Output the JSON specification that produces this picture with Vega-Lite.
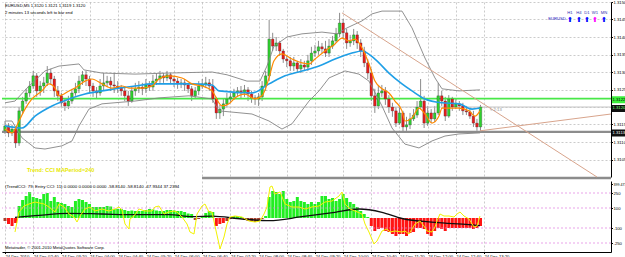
{
"$schema": "https://vega.github.io/schema/vega-lite/v6.json",
"padding": 0,
"background": "white",
"spacing": 1,
"config": {
 "view": {"stroke": null},
 "font": "Liberation Sans",
 "scale": {"continuousPadding": 0},
 "axis": {"labelFont": "Liberation Sans", "labelFontSize": 4.2, "labelColor": "#000", "gridColor": "#b4b4b4", "gridDash": [2, 2], "gridWidth": 0.7, "domainColor": "#000", "domainWidth": 1, "tickColor": "#000", "tickSize": 1.5, "labelOverlap": false, "labelSeparation": 0, "labelBound": false}
},
"datasets": {
 "one": [{}],
 "bars": [
  {"m":120,"o":1.31132,"h":1.31160,"l":1.31123,"c":1.31146,"v":-30},
  {"m":125,"o":1.31146,"h":1.31154,"l":1.31114,"c":1.31126,"v":-60},
  {"m":130,"o":1.31126,"h":1.31149,"l":1.31117,"c":1.31137,"v":-80},
  {"m":135,"o":1.31137,"h":1.31143,"l":1.31083,"c":1.31097,"v":-50},
  {"m":140,"o":1.31097,"h":1.31200,"l":1.31089,"c":1.31189,"v":120},
  {"m":145,"o":1.31189,"h":1.31229,"l":1.31180,"c":1.31217,"v":180},
  {"m":150,"o":1.31217,"h":1.31252,"l":1.31209,"c":1.31240,"v":220},
  {"m":155,"o":1.31240,"h":1.31274,"l":1.31229,"c":1.31260,"v":260},
  {"m":160,"o":1.31260,"h":1.31303,"l":1.31252,"c":1.31289,"v":210},
  {"m":165,"o":1.31289,"h":1.31297,"l":1.31229,"c":1.31246,"v":200},
  {"m":170,"o":1.31246,"h":1.31274,"l":1.31232,"c":1.31260,"v":190},
  {"m":175,"o":1.31260,"h":1.31286,"l":1.31240,"c":1.31269,"v":240},
  {"m":180,"o":1.31269,"h":1.31317,"l":1.31260,"c":1.31297,"v":250},
  {"m":185,"o":1.31297,"h":1.31309,"l":1.31263,"c":1.31280,"v":170},
  {"m":190,"o":1.31280,"h":1.31289,"l":1.31229,"c":1.31246,"v":210},
  {"m":195,"o":1.31246,"h":1.31260,"l":1.31217,"c":1.31232,"v":160},
  {"m":200,"o":1.31232,"h":1.31240,"l":1.31200,"c":1.31212,"v":150},
  {"m":205,"o":1.31212,"h":1.31223,"l":1.31189,"c":1.31203,"v":140},
  {"m":210,"o":1.31203,"h":1.31232,"l":1.31194,"c":1.31217,"v":120},
  {"m":215,"o":1.31217,"h":1.31252,"l":1.31209,"c":1.31240,"v":110},
  {"m":220,"o":1.31240,"h":1.31269,"l":1.31232,"c":1.31252,"v":170},
  {"m":225,"o":1.31252,"h":1.31289,"l":1.31240,"c":1.31274,"v":190},
  {"m":230,"o":1.31274,"h":1.31303,"l":1.31263,"c":1.31292,"v":180},
  {"m":235,"o":1.31292,"h":1.31303,"l":1.31260,"c":1.31280,"v":160},
  {"m":240,"o":1.31280,"h":1.31289,"l":1.31240,"c":1.31260,"v":140},
  {"m":245,"o":1.31260,"h":1.31269,"l":1.31229,"c":1.31246,"v":110},
  {"m":250,"o":1.31246,"h":1.31257,"l":1.31223,"c":1.31240,"v":110},
  {"m":255,"o":1.31240,"h":1.31280,"l":1.31232,"c":1.31260,"v":110},
  {"m":260,"o":1.31260,"h":1.31297,"l":1.31246,"c":1.31269,"v":110},
  {"m":265,"o":1.31269,"h":1.31289,"l":1.31257,"c":1.31274,"v":120},
  {"m":270,"o":1.31274,"h":1.31286,"l":1.31246,"c":1.31263,"v":115},
  {"m":275,"o":1.31263,"h":1.31297,"l":1.31240,"c":1.31260,"v":90},
  {"m":280,"o":1.31260,"h":1.31274,"l":1.31240,"c":1.31254,"v":90},
  {"m":285,"o":1.31254,"h":1.31263,"l":1.31232,"c":1.31246,"v":90},
  {"m":290,"o":1.31246,"h":1.31260,"l":1.31217,"c":1.31232,"v":80},
  {"m":295,"o":1.31232,"h":1.31246,"l":1.31203,"c":1.31217,"v":70},
  {"m":300,"o":1.31217,"h":1.31260,"l":1.31212,"c":1.31246,"v":75},
  {"m":305,"o":1.31246,"h":1.31269,"l":1.31232,"c":1.31252,"v":70},
  {"m":310,"o":1.31252,"h":1.31274,"l":1.31240,"c":1.31257,"v":70},
  {"m":315,"o":1.31257,"h":1.31269,"l":1.31234,"c":1.31252,"v":70},
  {"m":320,"o":1.31252,"h":1.31280,"l":1.31240,"c":1.31263,"v":80},
  {"m":325,"o":1.31263,"h":1.31274,"l":1.31246,"c":1.31257,"v":90},
  {"m":330,"o":1.31257,"h":1.31292,"l":1.31246,"c":1.31274,"v":85},
  {"m":335,"o":1.31274,"h":1.31297,"l":1.31263,"c":1.31280,"v":75},
  {"m":340,"o":1.31280,"h":1.31303,"l":1.31269,"c":1.31289,"v":70},
  {"m":345,"o":1.31289,"h":1.31297,"l":1.31269,"c":1.31283,"v":70},
  {"m":350,"o":1.31283,"h":1.31303,"l":1.31274,"c":1.31292,"v":80},
  {"m":355,"o":1.31292,"h":1.31297,"l":1.31266,"c":1.31280,"v":80},
  {"m":360,"o":1.31280,"h":1.31289,"l":1.31257,"c":1.31274,"v":75},
  {"m":365,"o":1.31274,"h":1.31283,"l":1.31252,"c":1.31266,"v":70},
  {"m":370,"o":1.31266,"h":1.31280,"l":1.31254,"c":1.31269,"v":70},
  {"m":375,"o":1.31269,"h":1.31280,"l":1.31246,"c":1.31263,"v":60},
  {"m":380,"o":1.31263,"h":1.31269,"l":1.31240,"c":1.31252,"v":45},
  {"m":385,"o":1.31252,"h":1.31260,"l":1.31217,"c":1.31232,"v":40},
  {"m":390,"o":1.31232,"h":1.31257,"l":1.31223,"c":1.31246,"v":-20},
  {"m":395,"o":1.31246,"h":1.31274,"l":1.31234,"c":1.31260,"v":-10},
  {"m":400,"o":1.31260,"h":1.31280,"l":1.31252,"c":1.31266,"v":20},
  {"m":405,"o":1.31266,"h":1.31286,"l":1.31254,"c":1.31269,"v":50},
  {"m":410,"o":1.31269,"h":1.31280,"l":1.31246,"c":1.31260,"v":70},
  {"m":415,"o":1.31260,"h":1.31280,"l":1.31212,"c":1.31223,"v":60},
  {"m":420,"o":1.31223,"h":1.31229,"l":1.31166,"c":1.31183,"v":-80},
  {"m":425,"o":1.31183,"h":1.31206,"l":1.31166,"c":1.31194,"v":-60},
  {"m":430,"o":1.31194,"h":1.31223,"l":1.31174,"c":1.31209,"v":-50},
  {"m":435,"o":1.31209,"h":1.31240,"l":1.31200,"c":1.31223,"v":-30},
  {"m":440,"o":1.31223,"h":1.31240,"l":1.31212,"c":1.31229,"v":-10},
  {"m":445,"o":1.31229,"h":1.31252,"l":1.31220,"c":1.31240,"v":20},
  {"m":450,"o":1.31240,"h":1.31257,"l":1.31229,"c":1.31246,"v":20},
  {"m":455,"o":1.31246,"h":1.31260,"l":1.31223,"c":1.31240,"v":10},
  {"m":460,"o":1.31240,"h":1.31263,"l":1.31229,"c":1.31249,"v":-20},
  {"m":465,"o":1.31249,"h":1.31257,"l":1.31217,"c":1.31237,"v":-30},
  {"m":470,"o":1.31237,"h":1.31246,"l":1.31212,"c":1.31226,"v":-30},
  {"m":475,"o":1.31226,"h":1.31234,"l":1.31206,"c":1.31223,"v":-40},
  {"m":480,"o":1.31223,"h":1.31240,"l":1.31203,"c":1.31229,"v":-20},
  {"m":485,"o":1.31229,"h":1.31274,"l":1.31217,"c":1.31260,"v":-10},
  {"m":490,"o":1.31260,"h":1.31303,"l":1.31246,"c":1.31289,"v":20},
  {"m":495,"o":1.31289,"h":1.31449,"l":1.31274,"c":1.31394,"v":210},
  {"m":500,"o":1.31394,"h":1.31412,"l":1.31360,"c":1.31374,"v":270},
  {"m":505,"o":1.31374,"h":1.31400,"l":1.31360,"c":1.31383,"v":260},
  {"m":510,"o":1.31383,"h":1.31389,"l":1.31346,"c":1.31360,"v":240},
  {"m":515,"o":1.31360,"h":1.31366,"l":1.31326,"c":1.31337,"v":270},
  {"m":520,"o":1.31337,"h":1.31346,"l":1.31314,"c":1.31332,"v":190},
  {"m":525,"o":1.31332,"h":1.31343,"l":1.31303,"c":1.31317,"v":160},
  {"m":530,"o":1.31317,"h":1.31343,"l":1.31303,"c":1.31326,"v":170},
  {"m":535,"o":1.31326,"h":1.31332,"l":1.31297,"c":1.31309,"v":210},
  {"m":540,"o":1.31309,"h":1.31337,"l":1.31297,"c":1.31320,"v":170},
  {"m":545,"o":1.31320,"h":1.31332,"l":1.31303,"c":1.31314,"v":160},
  {"m":550,"o":1.31314,"h":1.31349,"l":1.31303,"c":1.31332,"v":140},
  {"m":555,"o":1.31332,"h":1.31372,"l":1.31320,"c":1.31354,"v":160},
  {"m":560,"o":1.31354,"h":1.31377,"l":1.31343,"c":1.31360,"v":140},
  {"m":565,"o":1.31360,"h":1.31389,"l":1.31349,"c":1.31372,"v":160},
  {"m":570,"o":1.31372,"h":1.31383,"l":1.31354,"c":1.31366,"v":220},
  {"m":575,"o":1.31366,"h":1.31389,"l":1.31343,"c":1.31354,"v":220},
  {"m":580,"o":1.31354,"h":1.31394,"l":1.31343,"c":1.31374,"v":190},
  {"m":585,"o":1.31374,"h":1.31403,"l":1.31366,"c":1.31389,"v":200},
  {"m":590,"o":1.31389,"h":1.31426,"l":1.31383,"c":1.31409,"v":170},
  {"m":595,"o":1.31409,"h":1.31469,"l":1.31400,"c":1.31440,"v":190},
  {"m":600,"o":1.31440,"h":1.31452,"l":1.31394,"c":1.31412,"v":240},
  {"m":605,"o":1.31412,"h":1.31423,"l":1.31366,"c":1.31383,"v":200},
  {"m":610,"o":1.31383,"h":1.31406,"l":1.31372,"c":1.31389,"v":160},
  {"m":615,"o":1.31389,"h":1.31423,"l":1.31377,"c":1.31406,"v":140},
  {"m":620,"o":1.31406,"h":1.31417,"l":1.31366,"c":1.31383,"v":110},
  {"m":625,"o":1.31383,"h":1.31394,"l":1.31343,"c":1.31360,"v":70},
  {"m":630,"o":1.31360,"h":1.31372,"l":1.31314,"c":1.31326,"v":40},
  {"m":635,"o":1.31326,"h":1.31337,"l":1.31280,"c":1.31297,"v":10},
  {"m":640,"o":1.31297,"h":1.31309,"l":1.31217,"c":1.31232,"v":-80},
  {"m":645,"o":1.31232,"h":1.31252,"l":1.31183,"c":1.31203,"v":-130},
  {"m":650,"o":1.31203,"h":1.31260,"l":1.31194,"c":1.31240,"v":-110},
  {"m":655,"o":1.31240,"h":1.31263,"l":1.31229,"c":1.31246,"v":-100},
  {"m":660,"o":1.31246,"h":1.31257,"l":1.31206,"c":1.31223,"v":-130},
  {"m":665,"o":1.31223,"h":1.31234,"l":1.31183,"c":1.31200,"v":-140},
  {"m":670,"o":1.31200,"h":1.31212,"l":1.31172,"c":1.31189,"v":-160},
  {"m":675,"o":1.31189,"h":1.31200,"l":1.31143,"c":1.31154,"v":-180},
  {"m":680,"o":1.31154,"h":1.31203,"l":1.31149,"c":1.31183,"v":-160},
  {"m":685,"o":1.31183,"h":1.31189,"l":1.31126,"c":1.31143,"v":-160},
  {"m":690,"o":1.31143,"h":1.31172,"l":1.31132,"c":1.31149,"v":-180},
  {"m":695,"o":1.31149,"h":1.31183,"l":1.31137,"c":1.31166,"v":-150},
  {"m":700,"o":1.31166,"h":1.31194,"l":1.31160,"c":1.31177,"v":-140},
  {"m":705,"o":1.31177,"h":1.31217,"l":1.31169,"c":1.31200,"v":-100},
  {"m":710,"o":1.31200,"h":1.31280,"l":1.31194,"c":1.31217,"v":-100},
  {"m":715,"o":1.31217,"h":1.31232,"l":1.31140,"c":1.31154,"v":-110},
  {"m":720,"o":1.31154,"h":1.31203,"l":1.31146,"c":1.31183,"v":-160},
  {"m":725,"o":1.31183,"h":1.31194,"l":1.31154,"c":1.31166,"v":-180},
  {"m":730,"o":1.31166,"h":1.31203,"l":1.31157,"c":1.31183,"v":-130},
  {"m":735,"o":1.31183,"h":1.31269,"l":1.31177,"c":1.31232,"v":-100},
  {"m":740,"o":1.31232,"h":1.31246,"l":1.31203,"c":1.31217,"v":-110},
  {"m":745,"o":1.31217,"h":1.31229,"l":1.31160,"c":1.31174,"v":-130},
  {"m":750,"o":1.31174,"h":1.31234,"l":1.31169,"c":1.31223,"v":-100},
  {"m":755,"o":1.31223,"h":1.31229,"l":1.31189,"c":1.31200,"v":-100},
  {"m":760,"o":1.31200,"h":1.31223,"l":1.31194,"c":1.31209,"v":-100},
  {"m":765,"o":1.31209,"h":1.31217,"l":1.31189,"c":1.31203,"v":-100},
  {"m":770,"o":1.31203,"h":1.31212,"l":1.31177,"c":1.31189,"v":-100},
  {"m":775,"o":1.31189,"h":1.31203,"l":1.31177,"c":1.31186,"v":-100},
  {"m":780,"o":1.31186,"h":1.31197,"l":1.31166,"c":1.31174,"v":-100},
  {"m":785,"o":1.31174,"h":1.31189,"l":1.31143,"c":1.31154,"v":-110},
  {"m":790,"o":1.31154,"h":1.31166,"l":1.31132,"c":1.31143,"v":-100},
  {"m":795,"o":1.31143,"h":1.31206,"l":1.31129,"c":1.31200,"v":-80}
 ],
 "bup": [
  {"m":120,"p":1.31212},{"m":134.2,"p":1.31217},{"m":151.2,"p":1.31254},{"m":176.8,"p":1.31303},{"m":196.7,"p":1.31317},{"m":225.1,"p":1.31323},{"m":232.1,"p":1.31306},{"m":257.7,"p":1.31297},{"m":304.5,"p":1.31294},{"m":352.8,"p":1.31297},{"m":413.9,"p":1.31300},{"m":435.2,"p":1.31292},{"m":463.5,"p":1.31274},{"m":482.0,"p":1.31274},{"m":491.9,"p":1.31317},{"m":501.9,"p":1.31374},{"m":520.3,"p":1.31400},{"m":541.6,"p":1.31409},{"m":570.0,"p":1.31414},{"m":591.3,"p":1.31409},{"m":605.5,"p":1.31426},{"m":626.8,"p":1.31446},{"m":641.0,"p":1.31466},{"m":655.2,"p":1.31474},{"m":683.6,"p":1.31474},{"m":697.8,"p":1.31426},{"m":716.2,"p":1.31340},{"m":730.4,"p":1.31283},{"m":740.4,"p":1.31252},{"m":764.5,"p":1.31246},{"m":794.3,"p":1.31249}
 ],
 "blo": [
  {"m":120,"p":1.31160},{"m":129.9,"p":1.31160},{"m":144.1,"p":1.31112},{"m":162.6,"p":1.31083},{"m":176.8,"p":1.31080},{"m":200.9,"p":1.31089},{"m":215.1,"p":1.31103},{"m":225.1,"p":1.31146},{"m":239.2,"p":1.31194},{"m":257.7,"p":1.31209},{"m":304.5,"p":1.31217},{"m":338.6,"p":1.31226},{"m":381.2,"p":1.31232},{"m":413.9,"p":1.31223},{"m":423.8,"p":1.31189},{"m":470.6,"p":1.31180},{"m":494.8,"p":1.31160},{"m":513.2,"p":1.31137},{"m":527.4,"p":1.31152},{"m":551.6,"p":1.31217},{"m":565.8,"p":1.31246},{"m":580.0,"p":1.31283},{"m":602.7,"p":1.31303},{"m":622.5,"p":1.31294},{"m":636.7,"p":1.31274},{"m":655.2,"p":1.31203},{"m":669.4,"p":1.31140},{"m":687.8,"p":1.31094},{"m":707.7,"p":1.31083},{"m":726.2,"p":1.31103},{"m":744.6,"p":1.31117},{"m":764.5,"p":1.31123},{"m":794.3,"p":1.31126}
 ],
 "ma": [
  {"m":120,"p":1.31146},{"m":144.1,"p":1.31140},{"m":162.6,"p":1.31174},{"m":186.7,"p":1.31203},{"m":210.9,"p":1.31223},{"m":233.6,"p":1.31237},{"m":257.7,"p":1.31246},{"m":281.8,"p":1.31254},{"m":304.5,"p":1.31260},{"m":328.7,"p":1.31266},{"m":381.2,"p":1.31266},{"m":413.9,"p":1.31263},{"m":423.8,"p":1.31246},{"m":470.6,"p":1.31240},{"m":494.8,"p":1.31266},{"m":517.5,"p":1.31289},{"m":541.6,"p":1.31303},{"m":565.8,"p":1.31317},{"m":588.5,"p":1.31337},{"m":612.6,"p":1.31354},{"m":626.8,"p":1.31360},{"m":645.2,"p":1.31337},{"m":665.1,"p":1.31297},{"m":683.6,"p":1.31266},{"m":697.8,"p":1.31246},{"m":716.2,"p":1.31223},{"m":740.4,"p":1.31212},{"m":764.5,"p":1.31209},{"m":783.0,"p":1.31194},{"m":794.3,"p":1.31197}
 ],
 "ema": [
  {"m":120,"p":1.31137},{"m":129.9,"p":1.31126},{"m":139.9,"p":1.31160},{"m":148.4,"p":1.31194},{"m":158.3,"p":1.31223},{"m":172.5,"p":1.31246},{"m":182.5,"p":1.31266},{"m":191.0,"p":1.31254},{"m":196.7,"p":1.31232},{"m":203.8,"p":1.31237},{"m":210.9,"p":1.31246},{"m":219.4,"p":1.31254},{"m":233.6,"p":1.31274},{"m":243.5,"p":1.31280},{"m":257.7,"p":1.31266},{"m":271.9,"p":1.31254},{"m":286.1,"p":1.31260},{"m":296.0,"p":1.31254},{"m":314.5,"p":1.31254},{"m":328.7,"p":1.31260},{"m":338.6,"p":1.31280},{"m":352.8,"p":1.31289},{"m":371.3,"p":1.31283},{"m":385.5,"p":1.31266},{"m":399.7,"p":1.31260},{"m":413.9,"p":1.31246},{"m":428.1,"p":1.31203},{"m":438.0,"p":1.31209},{"m":446.5,"p":1.31226},{"m":460.7,"p":1.31237},{"m":474.9,"p":1.31223},{"m":484.8,"p":1.31232},{"m":494.8,"p":1.31283},{"m":501.9,"p":1.31332},{"m":513.2,"p":1.31352},{"m":527.4,"p":1.31337},{"m":541.6,"p":1.31326},{"m":551.6,"p":1.31323},{"m":560.1,"p":1.31337},{"m":574.3,"p":1.31360},{"m":588.5,"p":1.31380},{"m":598.4,"p":1.31397},{"m":608.3,"p":1.31389},{"m":616.9,"p":1.31394},{"m":626.8,"p":1.31369},{"m":636.7,"p":1.31323},{"m":645.2,"p":1.31274},{"m":655.2,"p":1.31252},{"m":665.1,"p":1.31240},{"m":673.6,"p":1.31217},{"m":683.6,"p":1.31189},{"m":687.8,"p":1.31160},{"m":697.8,"p":1.31169},{"m":707.7,"p":1.31197},{"m":716.2,"p":1.31180},{"m":726.2,"p":1.31154},{"m":736.1,"p":1.31174},{"m":740.4,"p":1.31197},{"m":751.7,"p":1.31197},{"m":764.5,"p":1.31197},{"m":778.7,"p":1.31189},{"m":787.2,"p":1.31174},{"m":794.3,"p":1.31189}
 ],
 "tl": [
  {"s":"d","m":598.4,"p":1.31469},{"s":"d","m":960.4,"p":1.31000},
  {"s":"a","m":794.3,"p":1.31132},{"s":"a","m":980.3,"p":1.31180}
 ],
 "slow": [
  {"m":134.2,"v":7},{"m":162.6,"v":23},{"m":210.9,"v":47},{"m":257.7,"v":40},{"m":304.5,"v":33},{"m":352.8,"v":33},{"m":385.5,"v":13},{"m":413.9,"v":18},{"m":456.4,"v":-10},{"m":494.8,"v":-27},{"m":541.6,"v":13},{"m":588.5,"v":57},{"m":622.5,"v":90},{"m":655.2,"v":57},{"m":683.6,"v":-5},{"m":730.4,"v":-43},{"m":778.7,"v":-67},{"m":794.3,"v":-77}
 ],
 "entry": [
  {"m":134.2,"v":-140},{"m":139.9,"v":60},{"m":147.0,"v":120},{"m":154.1,"v":140},{"m":162.6,"v":160},{"m":175.4,"v":140},{"m":182.5,"v":110},{"m":191.0,"v":60},{"m":196.7,"v":140},{"m":203.8,"v":110},{"m":210.9,"v":40},{"m":218.0,"v":10},{"m":222.2,"v":-40},{"m":226.5,"v":20},{"m":233.6,"v":90},{"m":240.7,"v":110},{"m":247.8,"v":70},{"m":257.7,"v":90},{"m":267.6,"v":70},{"m":276.2,"v":90},{"m":281.8,"v":110},{"m":286.1,"v":80},{"m":290.4,"v":-60},{"m":296.0,"v":-110},{"m":297.4,"v":-10},{"m":303.1,"v":20},{"m":310.2,"v":90},{"m":318.8,"v":70},{"m":328.7,"v":70},{"m":332.9,"v":110},{"m":338.6,"v":120},{"m":345.7,"v":40},{"m":352.8,"v":60},{"m":359.9,"v":70},{"m":364.2,"v":60},{"m":371.3,"v":10},{"m":378.4,"v":-60},{"m":382.6,"v":-140},{"m":388.3,"v":-160},{"m":392.6,"v":40},{"m":399.7,"v":120},{"m":403.9,"v":140},{"m":409.6,"v":60},{"m":413.9,"v":60},{"m":418.1,"v":-80},{"m":423.8,"v":-260},{"m":425.2,"v":-310},{"m":430.9,"v":-190},{"m":435.2,"v":-60},{"m":439.4,"v":10},{"m":446.5,"v":20},{"m":456.4,"v":10},{"m":466.4,"v":-30},{"m":474.9,"v":-40},{"m":482.0,"v":-30},{"m":487.7,"v":40},{"m":491.9,"v":110},{"m":496.2,"v":310},{"m":499.0,"v":320},{"m":503.3,"v":240},{"m":510.4,"v":260},{"m":517.5,"v":140},{"m":527.4,"v":110},{"m":537.4,"v":110},{"m":545.9,"v":90},{"m":555.8,"v":110},{"m":565.8,"v":120},{"m":574.3,"v":160},{"m":584.2,"v":170},{"m":594.2,"v":220},{"m":598.4,"v":260},{"m":602.7,"v":140},{"m":609.8,"v":90},{"m":616.9,"v":70},{"m":626.8,"v":40},{"m":631.1,"v":-60},{"m":636.7,"v":-140},{"m":643.8,"v":-260},{"m":648.1,"v":-230},{"m":655.2,"v":-130},{"m":662.3,"v":-110},{"m":666.5,"v":-140},{"m":673.6,"v":-130},{"m":683.6,"v":-140},{"m":687.8,"v":-130},{"m":693.5,"v":-160},{"m":697.8,"v":-110},{"m":702.0,"v":-60},{"m":709.1,"v":-30},{"m":714.8,"v":-80},{"m":719.1,"v":-130},{"m":726.2,"v":-140},{"m":730.4,"v":-90},{"m":733.3,"v":-30},{"m":737.5,"v":40},{"m":743.2,"v":20},{"m":750.3,"v":20},{"m":757.4,"v":10},{"m":761.7,"v":40},{"m":766.0,"v":60},{"m":771.6,"v":20},{"m":778.7,"v":-10},{"m":785.8,"v":-90},{"m":790.1,"v":-80},{"m":794.3,"v":20}
 ],
 "lv": [{"v":250},{"v":100},{"v":-100},{"v":-250}]
},
"vconcat": [
 {
  "width": 609, "height": 175,
  "resolve": {"axis": {"x": "independent", "y": "independent"}},
  "layer": [
   {
    "data": {"name": "bars"},
    "mark": {"type": "rule", "color": "#6e6e6e", "strokeWidth": 0.8},
    "encoding": {
     "x": {"field": "m", "type": "quantitative", "title": null, "scale": {"domain": [115.74, 980.3], "nice": false, "zero": false, "padding": 0},
       "axis": {"values": [120,160,200,240,280,320,360,400,440,480,520,560,600,640,680,720,760,800], "grid": true, "labels": false, "ticks": false, "domain": false, "labelOverlap": false}},
     "y": {"field": "l", "type": "quantitative", "title": null, "scale": {"domain": [1.31, 1.315], "nice": false, "zero": false, "padding": 0},
       "axis": {"orient": "right", "values": [1.3105,1.311,1.3115,1.312,1.3125,1.313,1.3135,1.314,1.3145,1.315], "format": ".4f", "grid": true, "labelPadding": 0.5, "labelOverlap": false, "labelBaseline": "middle"}},
     "y2": {"field": "h"}
    }
   },
   {"data": {"name": "one"}, "mark": {"type": "rule", "color": "#c4c4c4", "strokeWidth": 1}, "encoding": {"y": {"datum": 1.312, "type": "quantitative", "axis": null}}},
   {"data": {"name": "one"}, "mark": {"type": "rule", "color": "#8c8c8c", "strokeWidth": 2.4}, "encoding": {"y": {"datum": 1.31129, "type": "quantitative", "axis": null}}},
   {"data": {"name": "one"}, "mark": {"type": "rule", "color": "#48e848", "strokeWidth": 1.8}, "encoding": {"y": {"datum": 1.31224, "type": "quantitative", "axis": null}}},
   {"data": {"name": "one"}, "mark": {"type": "rule", "color": "#8c8c8c", "strokeWidth": 2.4}, "encoding": {"x": {"datum": 399.7, "type": "quantitative", "axis": null}, "x2": {"datum": 980.3}, "y": {"datum": 1.30997, "type": "quantitative", "axis": null}}},
   {
    "data": {"name": "bars"},
    "mark": {"type": "bar", "width": 2.6, "stroke": "#303030", "strokeWidth": 0.3},
    "encoding": {
     "x": {"field": "m", "type": "quantitative", "axis": null},
     "y": {"field": "o", "type": "quantitative", "axis": null},
     "y2": {"field": "c"},
     "color": {"condition": {"test": "datum.c >= datum.o", "value": "#2ed12e"}, "value": "#e81c1c"}
    }
   },
   {"data": {"name": "bup"}, "mark": {"type": "line", "color": "#858585", "strokeWidth": 0.9}, "encoding": {"x": {"field": "m", "type": "quantitative", "axis": null}, "y": {"field": "p", "type": "quantitative", "axis": null}}},
   {"data": {"name": "blo"}, "mark": {"type": "line", "color": "#858585", "strokeWidth": 0.9}, "encoding": {"x": {"field": "m", "type": "quantitative", "axis": null}, "y": {"field": "p", "type": "quantitative", "axis": null}}},
   {"data": {"name": "ma"}, "mark": {"type": "line", "color": "#1f9fe6", "strokeWidth": 1.6, "interpolate": "monotone"}, "encoding": {"x": {"field": "m", "type": "quantitative", "axis": null}, "y": {"field": "p", "type": "quantitative", "axis": null}}},
   {"data": {"name": "ema"}, "mark": {"type": "line", "color": "#ff8a00", "strokeWidth": 1.2, "interpolate": "monotone"}, "encoding": {"x": {"field": "m", "type": "quantitative", "axis": null}, "y": {"field": "p", "type": "quantitative", "axis": null}}},
   {"data": {"name": "tl"}, "mark": {"type": "line", "color": "#d8a48c", "strokeWidth": 1}, "encoding": {"x": {"field": "m", "type": "quantitative", "axis": null}, "y": {"field": "p", "type": "quantitative", "axis": null}, "detail": {"field": "s"}}},
   {"data": {"name": "one"}, "mark": {"type": "text", "text": "EURUSD,M5  1.3120 1.3121 1.3119 1.3120", "align": "left", "baseline": "middle", "fontSize": 4.2, "color": "#000"}, "encoding": {"x": {"datum": 120, "type": "quantitative", "axis": null}, "y": {"datum": 1.31489, "type": "quantitative", "axis": null}}},
   {"data": {"name": "one"}, "mark": {"type": "text", "text": "2 minutes 13 seconds left to bar end", "align": "left", "baseline": "middle", "fontSize": 4.2, "color": "#000"}, "encoding": {"x": {"datum": 120, "type": "quantitative", "axis": null}, "y": {"datum": 1.31469, "type": "quantitative", "axis": null}}},
   {"data": {"name": "one"}, "mark": {"type": "text", "text": "Trend: CCI   MAPeriod=240", "align": "left", "baseline": "middle", "fontSize": 5.5, "fontWeight": "bold", "color": "#e8e800"}, "encoding": {"x": {"datum": 151.2, "type": "quantitative", "axis": null}, "y": {"datum": 1.3102, "type": "quantitative", "axis": null}}},
   {"data": {"name": "one"}, "mark": {"type": "text", "text": "< 2:13", "align": "left", "baseline": "middle", "fontSize": 4.2, "color": "#909090"}, "encoding": {"x": {"datum": 808.5, "type": "quantitative", "axis": null}, "y": {"datum": 1.31191, "type": "quantitative", "axis": null}}},
   {"data": {"name": "one"}, "mark": {"type": "text", "text": "EURUSD", "align": "center", "baseline": "middle", "fontSize": 4.2, "color": "#2020c0"}, "encoding": {"x": {"datum": 903.6, "type": "quantitative", "axis": null}, "y": {"datum": 1.31451, "type": "quantitative", "axis": null}}},
   {"data": {"values": [{"k": "H1", "m": 922.1}, {"k": "H4", "m": 934.9}, {"k": "D1", "m": 946.2}, {"k": "W1", "m": 957.6}, {"k": "MN", "m": 970.3}]},
    "mark": {"type": "text", "align": "center", "baseline": "middle", "fontSize": 4.2, "color": "#3030b0"},
    "encoding": {"x": {"field": "m", "type": "quantitative", "axis": null}, "y": {"datum": 1.31469, "type": "quantitative", "axis": null}, "text": {"field": "k"}}},
   {"data": {"values": [{"k": "H1", "m": 922.1}, {"k": "H4", "m": 934.9}, {"k": "D1", "m": 946.2}, {"k": "W1", "m": 957.6}, {"k": "MN", "m": 970.3}]},
    "mark": {"type": "text", "text": "⬆", "font": "DejaVu Sans", "align": "center", "baseline": "middle", "fontSize": 7, "fontWeight": "bold"},
    "encoding": {"x": {"field": "m", "type": "quantitative", "axis": null}, "y": {"datum": 1.31448, "type": "quantitative", "axis": null},
      "color": {"condition": {"test": "datum.k == 'W1'", "value": "#ff00ff"}, "value": "#0000ff"}}},
   {"data": {"name": "one"}, "mark": {"type": "rect", "color": "#3cf03c"}, "encoding": {"x": {"datum": 981.7, "type": "quantitative", "axis": null}, "x2": {"datum": 1004}, "y": {"datum": 1.31231, "type": "quantitative", "axis": null}, "y2": {"datum": 1.31211}}},
   {"data": {"name": "one"}, "mark": {"type": "rect", "color": "#101010"}, "encoding": {"x": {"datum": 981.7, "type": "quantitative", "axis": null}, "x2": {"datum": 1004}, "y": {"datum": 1.31206, "type": "quantitative", "axis": null}, "y2": {"datum": 1.31186}}},
   {"data": {"name": "one"}, "mark": {"type": "rect", "color": "#101010"}, "encoding": {"x": {"datum": 981.7, "type": "quantitative", "axis": null}, "x2": {"datum": 1004}, "y": {"datum": 1.31136, "type": "quantitative", "axis": null}, "y2": {"datum": 1.31116}}},
   {"data": {"name": "one"}, "mark": {"type": "text", "text": "1.3122", "align": "left", "baseline": "middle", "fontSize": 4.2, "color": "#000"}, "encoding": {"x": {"datum": 982.5, "type": "quantitative", "axis": null}, "y": {"datum": 1.31221, "type": "quantitative", "axis": null}}},
   {"data": {"name": "one"}, "mark": {"type": "text", "text": "1.3120", "align": "left", "baseline": "middle", "fontSize": 4.2, "color": "#7cff7c"}, "encoding": {"x": {"datum": 982.5, "type": "quantitative", "axis": null}, "y": {"datum": 1.31196, "type": "quantitative", "axis": null}}},
   {"data": {"name": "one"}, "mark": {"type": "text", "text": "1.3113", "align": "left", "baseline": "middle", "fontSize": 4.2, "color": "#ffffff"}, "encoding": {"x": {"datum": 982.5, "type": "quantitative", "axis": null}, "y": {"datum": 1.31126, "type": "quantitative", "axis": null}}}
  ]
 },
 {
  "width": 609, "height": 71,
  "resolve": {"axis": {"x": "independent", "y": "independent"}},
  "layer": [
   {
    "data": {"name": "bars"},
    "mark": {"type": "bar", "width": 3},
    "encoding": {
     "x": {"field": "m", "type": "quantitative", "title": null, "scale": {"domain": [115.74, 980.3], "nice": false, "zero": false, "padding": 0},
       "axis": {"values": [120,160,200,240,280,320,360,400,440,480,520,560,600,640,680,720,760,800], "grid": true, "labelAlign": "left", "labelBaseline": "top", "labelPadding": 0.5, "labelOverlap": false,
         "labelExpr": "datum.value == 120 ? '24 Dec 2010' : '24 Dec ' + (floor(datum.value/60) < 10 ? '0' : '') + floor(datum.value/60) + ':' + (datum.value % 60 < 10 ? '0' : '') + (datum.value % 60)"}},
     "y": {"field": "v", "type": "quantitative", "title": null, "scale": {"domain": [-340, 370], "nice": false, "zero": false, "padding": 0},
       "axis": {"orient": "right", "values": [340, 250, 100, -100, -250], "grid": false, "labelPadding": 0.5, "labelOverlap": false,
         "labelFontSize": {"condition": {"test": "datum.value > 300", "value": 3.6}, "value": 4.2},
         "labelExpr": "datum.value > 300 ? '399.473' : datum.value"}},
     "y2": {"datum": 0},
     "color": {"condition": [{"test": "datum.v >= 0", "value": "#22ee22"}, {"test": "datum.v > -45", "value": "#a8402c"}], "value": "#ff1414"}
    }
   },
   {"data": {"name": "lv"}, "mark": {"type": "rule", "color": "#e07ce0", "strokeDash": [2, 2], "strokeWidth": 0.7}, "encoding": {"y": {"field": "v", "type": "quantitative", "axis": null}}},
   {"data": {"name": "slow"}, "mark": {"type": "line", "color": "#101010", "strokeWidth": 1.3, "interpolate": "monotone"}, "encoding": {"x": {"field": "m", "type": "quantitative", "axis": null}, "y": {"field": "v", "type": "quantitative", "axis": null}}},
   {"data": {"name": "entry"}, "mark": {"type": "line", "color": "#f2f200", "strokeWidth": 1}, "encoding": {"x": {"field": "m", "type": "quantitative", "axis": null}, "y": {"field": "v", "type": "quantitative", "axis": null}}},
   {"data": {"name": "one"}, "mark": {"type": "text", "text": "(TrendCCI: 79, Entry CCI: 11)  0.0000 0.0000 0.0000 -58.8140 -58.8140 -47.9344 37.2394", "align": "left", "baseline": "middle", "fontSize": 4.4, "color": "#000"}, "encoding": {"x": {"datum": 120, "type": "quantitative", "axis": null}, "y": {"datum": 310, "type": "quantitative", "axis": null}}},
   {"data": {"name": "one"}, "mark": {"type": "text", "text": "Metatrader, © 2001-2010 MetaQuotes Software Corp.", "align": "left", "baseline": "middle", "fontSize": 4.2, "color": "#000"}, "encoding": {"x": {"datum": 120, "type": "quantitative", "axis": null}, "y": {"datum": -300, "type": "quantitative", "axis": null}}}
  ]
 }
]
}
